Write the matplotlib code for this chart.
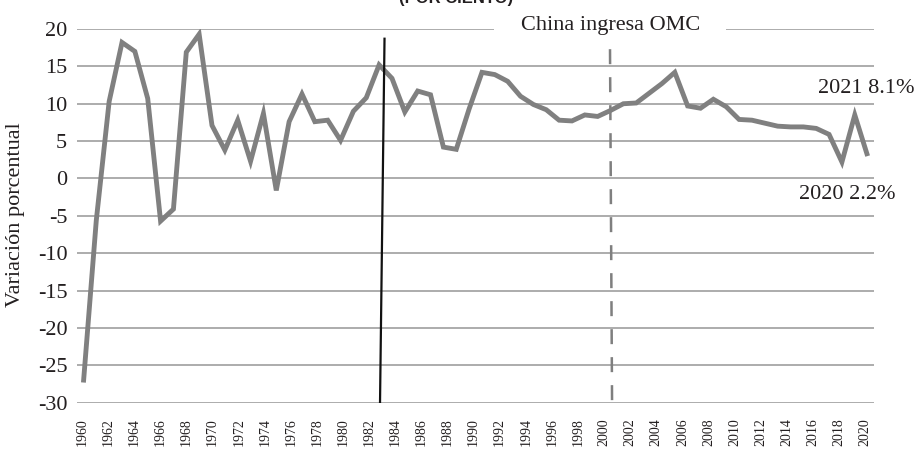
import numpy as np
import matplotlib
matplotlib.use("Agg")
import matplotlib.pyplot as plt

# ---- data ----
growth = [-27.3, -5.6, 10.3, 18.2, 17.0, 10.7, -5.7, -4.1, 16.9, 19.3,
          7.1, 3.8, 7.8, 2.3, 8.7, -1.6, 7.6, 11.3, 7.6, 7.8,
          5.1, 9.0, 10.8, 15.2, 13.4, 8.9, 11.7, 11.2, 4.2, 3.9,
          9.3, 14.2, 13.9, 13.0, 11.0, 9.9, 9.2, 7.8, 7.7, 8.5,
          8.3, 9.1, 10.0, 10.1, 11.4, 12.7, 14.2, 9.7, 9.4, 10.6,
          9.6, 7.9, 7.8, 7.4, 7.0, 6.9, 6.9, 6.7, 5.9, 2.2,
          8.5, 3.0]
tick_labels = [str(y) for y in range(1960, 2021, 2)]
y_ticks = [-30, -25, -20, -15, -10, -5, 0, 5, 10, 15, 20]

# event lines (category positions, values)
reform_x = [23.07, 23.42]
reform_y = [-30, 18.7]
omc_x = [40.96, 41.12]
omc_y = [17.3, -30]
omc_label = "China ingresa OMC"
ann_2021 = "2021 8.1%"
ann_2020 = "2020 2.2%"

serif = ["Liberation Serif", "DejaVu Serif"]
txt_color = "#231f20"
grid_color = "#a6a6a6"
line_color = "#808080"

fig = plt.figure(figsize=(9.19, 4.51), dpi=100)
ax = fig.add_axes([0.0838, 0.1071, 0.8673, 0.8286])

x = np.arange(len(growth))
ax.set_xlim(-0.5, len(growth) - 0.5)
ax.set_ylim(-30, 20)

# gridlines (top one interrupted by the label)
for v in y_ticks:
    if v == 20:
        ax.hlines(v, -0.5, 31.9, color=grid_color, lw=1.3, zorder=1)
        ax.hlines(v, 50.0, len(growth) - 0.5, color=grid_color, lw=1.3, zorder=1)
    else:
        ax.hlines(v, -0.5, len(growth) - 0.5, color=grid_color, lw=1.3, zorder=1)

ax.plot(x, growth, color=line_color, lw=3.5, solid_joinstyle="miter",
        solid_capstyle="butt", zorder=3)

ax.plot(reform_x, reform_y, color="#111111", lw=1.6, zorder=4)
lw_d = 1.8
ax.plot(omc_x, omc_y, color="#7f7f7f", lw=lw_d,
        linestyle=(0, (15 / 1.389 / lw_d, 13 / 1.389 / lw_d)), zorder=2)

ax.text(41.0, 19.9, omc_label, ha="center", va="baseline",
        fontsize=16, family=serif, color=txt_color)
ax.text(60.9, 12.1, ann_2021, ha="center", va="center",
        fontsize=16, family=serif, color=txt_color, clip_on=False)
ax.text(59.4, -2.2, ann_2020, ha="center", va="center",
        fontsize=16, family=serif, color=txt_color, clip_on=False)

ax.set_yticks(y_ticks)
ax.set_yticklabels([str(v) for v in y_ticks], family=serif, fontsize=16,
                   color=txt_color)
ax.set_xticks(np.linspace(-0.1, 60.8, len(tick_labels)))
ax.set_xticklabels(tick_labels, rotation=90, family=serif, fontsize=10,
                   color=txt_color, va="top")
ax.tick_params(axis="both", length=0)
ax.tick_params(axis="y", pad=7)
ax.tick_params(axis="x", pad=11)
for s in ax.spines.values():
    s.set_visible(False)

fig.text(16 / 919, 1 - 215 / 451, "Variación porcentual", rotation=90,
         ha="center", va="center", fontsize=16, family=serif, color=txt_color)
# title is cut at the top edge in the reference
fig.text(456 / 919, 1 - 3.5 / 451, "(POR CIENTO)", ha="center", va="baseline",
         fontsize=12, fontweight="bold", family=["Liberation Sans", "DejaVu Sans"],
         color=txt_color)

fig.savefig("out.png", dpi=100)
